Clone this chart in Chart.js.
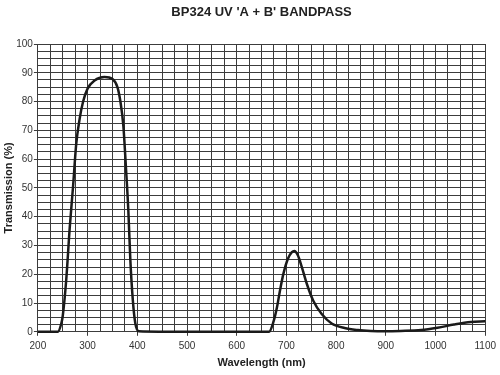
<!DOCTYPE html>
<html>
<head>
<meta charset="utf-8">
<script src="https://cdn.jsdelivr.net/npm/chart.js@4"></script>
<style>
  html, body { margin: 0; padding: 0; background: #fff; }
  #chart { display: block; }
</style>
</head>
<body>
<canvas id="chart" width="500" height="375"></canvas>
<script>
const wavelengths = [200, 240, 247, 250, 257, 264, 271, 277, 284, 291, 300, 314, 334, 350, 360, 366, 372, 377, 382, 386, 391, 396, 403,
  500, 600, 665, 674, 681, 687, 694, 703, 711, 716, 723, 731, 741, 754, 771, 791, 817, 844, 870, 897, 930, 971, 1004, 1037, 1071, 1100];
const transmission = [0, 0, 2.8, 5.5, 18, 36, 51, 65, 74, 80, 84.5, 87.3, 88.5, 87.8, 85, 80, 71.5, 57.5, 42, 25, 11, 3, 0.2,
  0, 0, 0, 3.5, 8.5, 14.3, 20.2, 25.4, 27.7, 28.1, 26.6, 22.5, 16.7, 10.8, 6.2, 2.9, 1.3, 0.6, 0.3, 0.2, 0.3, 0.6, 1.4, 2.5, 3.4, 3.7];

const xLabels = [200, 300, 400, 500, 600, 700, 800, 900, 1000, 1100];
const yLabels = [0, 10, 20, 30, 40, 50, 60, 70, 80, 90, 100];

const chartTitle = "BP324 UV 'A + B' BANDPASS";
const gridColor = '#3c3c3c';
const textColor = '#333';
const fontFamily = 'Liberation Sans, Arial, sans-serif';

const points = wavelengths.map((w, i) => ({ x: w, y: transmission[i] }));

// titulo centrado sobre a area do grafico, nao sobre o canvas
const centeredTitle = {
  id: 'centeredTitle',
  afterDraw(chart) {
    const { ctx, chartArea } = chart;
    ctx.save();
    ctx.font = 'bold 13px ' + fontFamily;
    ctx.fillStyle = '#222';
    ctx.textAlign = 'center';
    ctx.textBaseline = 'middle';
    ctx.fillText(chartTitle, (chartArea.left + chartArea.right) / 2, 12);
    ctx.restore();
  }
};

new Chart(document.getElementById('chart'), {
  type: 'line',
  data: {
    datasets: [{
      data: points,
      borderColor: '#1a1a1a',
      borderWidth: 2.5,
      pointRadius: 0,
      fill: false,
      cubicInterpolationMode: 'monotone',
      clip: 4
    }]
  },
  options: {
    responsive: false,
    animation: false,
    layout: { padding: { left: 2, right: 9, top: 44, bottom: 5 } },
    plugins: {
      legend: { display: false },
      tooltip: { enabled: false },
      title: { display: false }
    },
    scales: {
      x: {
        type: 'linear',
        min: 200,
        max: 1100,
        ticks: {
          stepSize: 25,
          autoSkip: false,
          maxRotation: 0,
          color: textColor,
          font: { family: fontFamily, size: 10 },
          padding: 4,
          callback: v => xLabels.includes(v) ? String(v) : ''
        },
        grid: {
          color: gridColor,
          lineWidth: 1,
          tickLength: 4,
          tickColor: ctx => (ctx.tick && xLabels.includes(ctx.tick.value)) ? gridColor : 'rgba(0,0,0,0)'
        },
        border: { color: gridColor },
        title: {
          display: true,
          text: 'Wavelength (nm)',
          color: '#222',
          font: { family: fontFamily, size: 11, weight: 'bold' },
          padding: { top: 1, bottom: 0 }
        }
      },
      y: {
        min: 0,
        max: 100,
        ticks: {
          stepSize: 2.5,
          autoSkip: false,
          color: textColor,
          font: { family: fontFamily, size: 10 },
          padding: 1,
          callback: v => yLabels.includes(v) ? String(v) : ''
        },
        grid: {
          color: gridColor,
          lineWidth: 1,
          tickLength: 4,
          tickColor: ctx => (ctx.tick && yLabels.includes(ctx.tick.value)) ? gridColor : 'rgba(0,0,0,0)'
        },
        border: { color: gridColor },
        title: {
          display: true,
          text: 'Transmission (%)',
          color: '#222',
          font: { family: fontFamily, size: 11, weight: 'bold' },
          padding: { top: 0, bottom: 0 }
        }
      }
    }
  },
  plugins: [centeredTitle]
});
</script>
</body>
</html>
